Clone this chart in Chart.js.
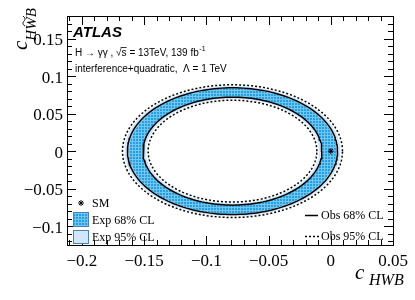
<!DOCTYPE html>
<html>
<head>
<meta charset="utf-8">
<script src="https://cdn.jsdelivr.net/npm/chart.js@4.4.0/dist/chart.umd.min.js"></script>
<style>
  html, body { margin: 0; padding: 0; background: #fff; }
</style>
</head>
<body>
<canvas id="chart" width="415" height="300"></canvas>
<script>
// axis ranges and ticks
var xRange = [-0.212, 0.05];
var yRange = [-0.125, 0.18];
var xTicks = [-0.2, -0.15, -0.1, -0.05, 0, 0.05];
var xTickLabels = ['\u22120.2', '\u22120.15', '\u22120.1', '\u22120.05', '0', '0.05'];
var yTicks = [-0.1, -0.05, 0, 0.05, 0.1, 0.15];
var yTickLabels = ['\u22120.1', '\u22120.05', '0', '0.05', '0.1', '0.15'];
var minorStep = 0.01;

// contours: ring centre and [inner, outer] radii
var ringCenter = [-0.079, 0];
var expRing68 = [0.0724, 0.0833];
var expRing95 = [0.0695, 0.0868];
var obsRing68 = [0.0719, 0.0844];
var obsRing95 = [0.0678, 0.0884];
var smPoint = [{ x: 0, y: 0 }];

function loop(r, reverse) {
  var pts = [];
  for (var a = 0; a <= 360; a += 2) {
    var t = (reverse ? 360 - a : a) * Math.PI / 180;
    pts.push({ x: ringCenter[0] + r * Math.cos(t), y: ringCenter[1] + r * Math.sin(t) });
  }
  return pts;
}
function ring(radii) {
  return loop(radii[1], false).concat(loop(radii[0], true));
}

var canvas = document.getElementById('chart');
var ctx0 = canvas.getContext('2d');

function makeHatch() {
  var p = document.createElement('canvas');
  p.width = 3; p.height = 3;
  var g = p.getContext('2d');
  g.fillStyle = '#23a0e4';
  g.fillRect(0, 0, 3, 3);
  g.fillStyle = '#74c6f0';
  g.fillRect(0, 0, 3, 1);
  g.fillRect(0, 0, 1, 3);
  return ctx0.createPattern(p, 'repeat');
}
var hatch = makeHatch();
var lightBlue = '#cfe6fb';

function lineSet(data, dash, order) {
  return {
    data: data, showLine: true, pointRadius: 0, borderColor: '#000',
    borderWidth: 1.5, borderDash: dash, fill: false, tension: 0, order: order
  };
}

function drawStar(ctx, x, y, r) {
  ctx.save();
  ctx.strokeStyle = '#000';
  ctx.lineWidth = 1;
  ctx.beginPath();
  for (var k = 0; k < 4; k++) {
    var t = k * Math.PI / 4;
    ctx.moveTo(x - r * Math.cos(t), y - r * Math.sin(t));
    ctx.lineTo(x + r * Math.cos(t), y + r * Math.sin(t));
  }
  ctx.stroke();
  ctx.restore();
}

var frame = {
  id: 'frame',
  afterDraw: function (chart) {
    var ctx = chart.ctx, a = chart.chartArea;
    var xs = chart.scales.x, ys = chart.scales.y;
    ctx.save();
    ctx.strokeStyle = '#000';
    ctx.lineWidth = 1;
    ctx.strokeRect(a.left + 0.5, a.top + 0.5, a.right - a.left, a.bottom - a.top);

    // inward ticks, all four sides
    ctx.beginPath();
    var i, v, px, len;
    for (i = Math.ceil(xRange[0] / minorStep); i * minorStep <= xRange[1] + 1e-9; i++) {
      v = i * minorStep;
      px = Math.round(xs.getPixelForValue(v)) + 0.5;
      len = (i % 5 === 0) ? 9 : 5;
      ctx.moveTo(px, a.bottom); ctx.lineTo(px, a.bottom - len);
      ctx.moveTo(px, a.top); ctx.lineTo(px, a.top + len);
    }
    for (i = Math.ceil(yRange[0] / minorStep); i * minorStep <= yRange[1] + 1e-9; i++) {
      v = i * minorStep;
      px = Math.round(ys.getPixelForValue(v)) + 0.5;
      len = (i % 5 === 0) ? 9 : 5;
      ctx.moveTo(a.left, px); ctx.lineTo(a.left + len, px);
      ctx.moveTo(a.right, px); ctx.lineTo(a.right - len, px);
    }
    ctx.stroke();

    // tick labels
    ctx.fillStyle = '#000';
    ctx.font = '17px "Liberation Serif"';
    ctx.textAlign = 'center';
    ctx.textBaseline = 'alphabetic';
    xTicks.forEach(function (t, k) {
      ctx.fillText(xTickLabels[k], xs.getPixelForValue(t), 266);
    });
    ctx.textAlign = 'right';
    ctx.textBaseline = 'middle';
    yTicks.forEach(function (t, k) {
      ctx.fillText(yTickLabels[k], 63, ys.getPixelForValue(t) + 2);
    });

    // axis titles
    ctx.textAlign = 'left';
    ctx.textBaseline = 'alphabetic';
    ctx.font = 'italic 21px "Liberation Serif"';
    ctx.fillText('c', 355, 279);
    ctx.font = 'italic 16px "Liberation Serif"';
    ctx.fillText('HWB', 369, 285);

    ctx.save();
    ctx.translate(27, 50);
    ctx.rotate(-Math.PI / 2);
    ctx.font = 'italic 21px "Liberation Serif"';
    ctx.fillText('c', 0, 0);
    var cw = ctx.measureText('c').width;
    ctx.font = 'italic 15px "Liberation Serif"';
    ctx.fillText('H', cw, 9);
    var hw = ctx.measureText('H').width;
    var ww = ctx.measureText('W').width;
    ctx.fillText('W', cw + hw, 9);
    ctx.fillText('B', cw + hw + ww, 9);
    // tilde over the W
    var tx = cw + hw + ww * 0.3, ty = -3;
    ctx.beginPath();
    ctx.moveTo(tx, ty + 1);
    ctx.bezierCurveTo(tx + 2, ty - 2, tx + 4, ty - 1, tx + 5, ty);
    ctx.bezierCurveTo(tx + 6, ty + 1, tx + 8, ty + 2, tx + 10, ty - 1);
    ctx.lineWidth = 1;
    ctx.stroke();
    ctx.restore();

    // ATLAS label
    ctx.font = 'bold italic 15px "Liberation Sans"';
    ctx.fillText('ATLAS', 73, 37);
    ctx.font = '10px "Liberation Sans"';
    var s1 = 'H \u2192 \u03b3\u03b3 , \u221a';
    ctx.fillText(s1, 75, 56);
    var x1 = 75 + ctx.measureText(s1).width;
    var sw = ctx.measureText('s').width;
    ctx.fillText('s', x1, 56);
    ctx.beginPath();
    ctx.moveTo(x1 - 1, 47.5); ctx.lineTo(x1 + sw, 47.5);
    ctx.lineWidth = 0.8; ctx.stroke();
    var s2 = ' = 13TeV, 139 fb';
    ctx.fillText(s2, x1 + sw, 56);
    var x2 = x1 + sw + ctx.measureText(s2).width;
    ctx.font = '7px "Liberation Sans"';
    ctx.fillText('-1', x2 + 0.5, 51);
    ctx.font = '10px "Liberation Sans"';
    ctx.fillText('interference+quadratic,  \u039b = 1 TeV', 75, 72);

    // legend, left
    ctx.font = '12px "Liberation Serif"';
    drawStar(ctx, 81, 203, 3);
    ctx.fillText('SM', 92, 207);
    ctx.fillStyle = hatch;
    ctx.fillRect(74, 213, 14, 13);
    ctx.strokeStyle = '#4d7fb0';
    ctx.lineWidth = 1;
    ctx.strokeRect(73.5, 212.5, 15, 14);
    ctx.fillStyle = lightBlue;
    ctx.fillRect(74, 231, 14, 12);
    ctx.strokeRect(73.5, 230.5, 15, 13);
    ctx.fillStyle = '#000';
    ctx.fillText('Exp 68% CL', 92, 224);
    ctx.fillText('Exp 95% CL', 92, 241);

    // legend, right
    ctx.strokeStyle = '#000';
    ctx.lineWidth = 1.5;
    ctx.beginPath();
    ctx.moveTo(305, 215.5); ctx.lineTo(318, 215.5);
    ctx.stroke();
    ctx.setLineDash([2, 2]);
    ctx.beginPath();
    ctx.moveTo(305, 236.5); ctx.lineTo(319, 236.5);
    ctx.stroke();
    ctx.setLineDash([]);
    ctx.fillText('Obs 68% CL', 321, 219);
    ctx.fillText('Obs 95% CL', 321, 240);
    ctx.restore();
  }
};

new Chart(canvas, {
  type: 'scatter',
  data: {
    datasets: [
      { data: smPoint, pointStyle: 'star', pointRadius: 3, borderColor: '#000', borderWidth: 1, backgroundColor: '#000', order: 0 },
      lineSet(loop(obsRing68[0]), [], 1),
      lineSet(loop(obsRing68[1]), [], 1),
      lineSet(loop(obsRing95[0]), [2, 2], 2),
      lineSet(loop(obsRing95[1]), [2, 2], 2),
      { data: ring(expRing68), showLine: true, pointRadius: 0, borderColor: 'transparent', borderWidth: 1,
        backgroundColor: hatch, fill: 'shape', tension: 0, order: 3 },
      { data: ring(expRing95), showLine: true, pointRadius: 0, borderColor: 'transparent', borderWidth: 1,
        backgroundColor: lightBlue, fill: 'shape', tension: 0, order: 4 }
    ]
  },
  options: {
    responsive: false,
    animation: false,
    devicePixelRatio: 1,
    layout: { padding: { left: 67, top: 16, right: 22, bottom: 55 } },
    plugins: { legend: { display: false }, tooltip: { enabled: false } },
    scales: {
      x: { type: 'linear', min: xRange[0], max: xRange[1], display: false },
      y: { type: 'linear', min: yRange[0], max: yRange[1], display: false }
    }
  },
  plugins: [frame]
});
</script>
</body>
</html>
